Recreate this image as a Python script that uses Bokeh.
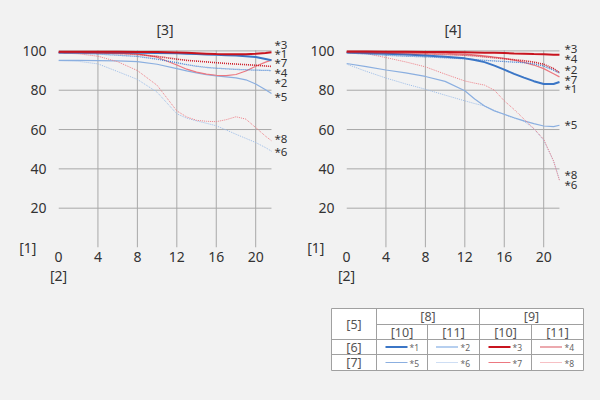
from bokeh.plotting import figure
from bokeh.layouts import column, row
from bokeh.models import Range1d, FixedTicker, Label
from bokeh.embed import file_html
from bokeh.resources import INLINE

FONT = "Noto Sans"
BG = "#f2f2f2"
TXT = "#333333"

# ---------------- data ----------------
x_pos = [0, 2, 4, 6, 8, 10, 12, 13, 14, 15, 16, 17, 18, 19, 20, 21, 21.6]

# left chart  [3]
left_1 = [99.2, 99.2, 99.2, 99.1, 99.0, 98.9, 98.8, 98.6, 98.4, 98.2, 98.0, 97.8, 97.6, 97.3, 96.9, 95.9, 95.2]
left_2 = [99.0, 98.8, 98.4, 97.8, 97.2, 95.8, 94.0, 93.0, 92.2, 91.6, 91.2, 90.9, 90.6, 90.4, 90.2, 90.1, 90.0]
left_3 = [99.6, 99.6, 99.6, 99.6, 99.5, 99.4, 99.2, 99.0, 98.8, 98.6, 98.4, 98.3, 98.3, 98.3, 98.5, 98.9, 99.3]
left_4 = [99.3, 99.2, 99.0, 98.7, 98.2, 97.2, 95.8, 95.2, 94.8, 94.4, 94.0, 93.6, 93.3, 93.0, 92.7, 92.3, 92.1]
left_5 = [95.2, 95.2, 95.1, 94.9, 94.5, 93.2, 91.0, 89.8, 88.8, 87.9, 87.3, 86.8, 86.3, 85.3, 83.2, 80.2, 78.3]
left_6 = [95.0, 94.7, 93.4, 89.5, 85.5, 79.0, 68.0, 65.8, 64.4, 63.2, 61.9, 59.8, 57.6, 55.5, 53.4, 50.8, 49.0]
left_7 = [99.0, 99.0, 98.9, 98.8, 98.5, 96.8, 92.8, 90.7, 89.2, 88.2, 87.6, 87.4, 88.0, 89.8, 92.2, 94.3, 95.3]
left_8 = [99.0, 98.5, 97.3, 94.5, 90.0, 82.5, 69.5, 66.4, 64.7, 64.2, 64.0, 65.0, 66.5, 65.3, 61.0, 56.6, 54.3]

# right chart  [4]
right_1 = [99.2, 98.9, 98.6, 98.2, 97.6, 97.0, 96.2, 95.4, 94.3, 92.5, 90.5, 88.3, 86.4, 84.6, 83.2, 83.2, 84.2]
right_2 = [99.0, 98.4, 97.8, 97.3, 97.0, 96.5, 96.0, 95.6, 95.2, 94.9, 94.6, 94.3, 94.0, 93.4, 92.3, 90.2, 88.8]
right_3 = [99.7, 99.7, 99.6, 99.6, 99.5, 99.4, 99.3, 99.2, 99.1, 99.0, 98.9, 98.7, 98.6, 98.4, 98.3, 98.1, 98.0]
right_4 = [99.3, 99.1, 98.9, 98.7, 98.5, 98.2, 97.8, 97.5, 97.0, 96.5, 96.0, 95.5, 95.0, 94.3, 93.2, 91.0, 89.0]
right_5 = [93.6, 92.0, 90.3, 88.8, 87.0, 84.5, 79.7, 75.5, 72.0, 69.5, 67.8, 66.0, 64.4, 63.0, 61.8, 61.5, 62.2]
right_6 = [93.3, 89.6, 86.2, 83.2, 80.5, 77.5, 74.6, 73.2, 72.0, 69.6, 67.6, 65.8, 64.2, 60.5, 54.5, 44.0, 34.5]
right_7 = [99.6, 99.5, 99.4, 99.3, 99.1, 98.8, 98.4, 98.0, 97.5, 96.9, 96.2, 95.3, 94.2, 92.8, 91.0, 88.4, 86.8]
right_8 = [99.2, 98.6, 96.6, 94.4, 91.9, 88.2, 84.7, 83.6, 82.6, 80.0, 74.6, 70.2, 65.3, 60.5, 55.0, 44.0, 34.0]

series_ids = ["*1", "*2", "*3", "*4", "*5", "*6", "*7", "*8"]
left_series = [left_1, left_2, left_3, left_4, left_5, left_6, left_7, left_8]
right_series = [right_1, right_2, right_3, right_4, right_5, right_6, right_7, right_8]

left_label_y = {"*3": 103.5, "*1": 98.9, "*7": 93.9, "*4": 88.8, "*2": 83.7, "*5": 76.6, "*8": 55.2, "*6": 48.6}
right_label_y = {"*3": 101.4, "*4": 96.3, "*2": 90.7, "*7": 85.6, "*1": 80.7, "*5": 62.8, "*8": 37.3, "*6": 32.2}

x_ticks = [0, 4, 8, 12, 16, 20]
y_ticks = [20, 40, 60, 80, 100]
X_MAX = 21.6
Y_MAX = 100.3
chart_titles = ["[3]", "[4]"]
y_unit = "[1]"
x_unit = "[2]"

row_head = "[5]"
group_heads = ["[8]", "[9]"]
sub_heads = ["[10]", "[11]", "[10]", "[11]"]
row_labels = ["[6]", "[7]"]

# ---------------- styles ----------------
STY = {
    "*1": dict(color="#3b76c6", width=2.0, dash="solid"),
    "*2": dict(color="#3f7fd4", width=1.3, dash="1 1"),
    "*3": dict(color="#c8141f", width=2.0, dash="solid"),
    "*4": dict(color="#cc1b28", width=1.6, dash="1 1"),
    "*5": dict(color="#8bafe0", width=1.2, dash="solid"),
    "*6": dict(color="#9dbde8", width=1.0, dash="1 1"),
    "*7": dict(color="#ec7880", width=1.2, dash="solid"),
    "*8": dict(color="#ee8088", width=1.0, dash="1 1"),
}
DRAW_ORDER = ["*6", "*5", "*8", "*7", "*2", "*1", "*4", "*3"]
PX_X = 9.86   # px per x unit
PX_Y = 1.966  # px per y unit
FIG_W, FIG_H = 300, 300
BOTTOM = 53


def make_chart(title, series, label_y, border_left, lab_off):
    fw = FIG_W - border_left
    fh = FIG_H - BOTTOM
    p = figure(frame_width=fw, frame_height=fh,
               min_border_left=border_left, min_border_right=0,
               min_border_top=0, min_border_bottom=BOTTOM,
               x_range=Range1d(0, fw / PX_X), y_range=Range1d(0, fh / PX_Y),
               output_backend="svg", toolbar_location=None,
               background_fill_color=BG, border_fill_color=BG,
               outline_line_color=None)
    for ax in (p.xaxis[0], p.yaxis[0]):
        ax.axis_line_color = None
        ax.major_tick_line_color = None
        ax.minor_tick_line_color = None
        ax.major_label_text_font = FONT
        ax.major_label_text_font_size = "14px"
        ax.major_label_text_color = TXT
        ax.axis_label_text_font = FONT
        ax.axis_label_text_font_size = "14px"
        ax.axis_label_text_color = TXT
        ax.axis_label_text_font_style = "normal"
    p.xaxis.ticker = FixedTicker(ticks=x_ticks)
    p.yaxis.ticker = FixedTicker(ticks=y_ticks)
    p.xaxis.major_label_standoff = -2
    p.yaxis.major_label_standoff = 6
    p.xaxis.axis_label = x_unit
    p.xaxis.axis_label_align = "start"
    p.xaxis.axis_label_standoff = 1
    p.yaxis.axis_label = y_unit
    p.yaxis.axis_label_orientation = "horizontal"
    p.yaxis.axis_label_align = "start"
    p.yaxis.axis_label_text_baseline = "bottom"
    p.yaxis.axis_label_standoff = -17
    p.xgrid.visible = False
    p.ygrid.visible = False

    gx = [t for t in x_ticks if t > 0]
    p.segment(x0=gx, y0=[0] * len(gx), x1=gx, y1=[Y_MAX] * len(gx),
              line_color="#a8a8a8", line_width=1)
    p.segment(x0=[0] * len(y_ticks), y0=y_ticks, x1=[X_MAX] * len(y_ticks), y1=y_ticks,
              line_color="#a8a8a8", line_width=1)

    data = dict(zip(series_ids, series))
    for sid in DRAW_ORDER:
        s = STY[sid]
        p.line(x_pos, data[sid], line_color=s["color"], line_width=s["width"],
               line_dash=s["dash"])

    for sid, yv in label_y.items():
        p.add_layout(Label(x=X_MAX, y=yv, x_offset=lab_off, text=sid,
                           text_font=FONT, text_font_size="11.5px",
                           text_color=TXT, text_baseline="middle", text_align="left"))

    p.add_layout(Label(x=X_MAX / 2, y=Y_MAX, y_offset=21, text=title, text_font=FONT,
                       text_font_size="14px", text_color=TXT,
                       text_align="center", text_baseline="middle"))
    return p


p1 = make_chart(chart_titles[0], left_series, left_label_y, 58, 3)
p2 = make_chart(chart_titles[1], right_series, right_label_y, 46, 5)

# ---------------- legend table ----------------
t = figure(width=600, height=100, x_range=Range1d(0, 600), y_range=Range1d(100, 0),
           x_axis_type=None, y_axis_type=None, output_backend="svg",
           toolbar_location=None, background_fill_color=BG, border_fill_color=BG,
           outline_line_color=None, min_border=0)
t.xgrid.visible = False
t.ygrid.visible = False

cols = [331, 376, 427, 479, 531, 583]
rows_ = [8, 24, 39, 54, 70]
LC = "#a0a0a0"
t.quad(left=[cols[0]], right=[cols[-1]], top=[rows_[0]], bottom=[rows_[-1]],
       fill_color="white", line_color=LC, line_width=1)
t.segment(x0=[cols[1], cols[0], cols[0]], y0=[rows_[1], rows_[2], rows_[3]],
          x1=[cols[-1], cols[-1], cols[-1]], y1=[rows_[1], rows_[2], rows_[3]],
          line_color=LC, line_width=1)
t.segment(x0=[cols[1], cols[3], cols[2], cols[4]], y0=[rows_[0], rows_[0], rows_[1], rows_[1]],
          x1=[cols[1], cols[3], cols[2], cols[4]], y1=[rows_[-1]] * 4,
          line_color=LC, line_width=1)


def tlabel(x, y, txt, size="12.5px", color="#555555", align="center"):
    t.add_layout(Label(x=x, y=y, text=txt, text_font=FONT, text_font_size=size,
                       text_color=color, text_align=align, text_baseline="middle"))


tlabel((cols[0] + cols[1]) / 2, (rows_[0] + rows_[2]) / 2, row_head)
tlabel((cols[1] + cols[3]) / 2, (rows_[0] + rows_[1]) / 2, group_heads[0])
tlabel((cols[3] + cols[5]) / 2, (rows_[0] + rows_[1]) / 2, group_heads[1])
for i, sh in enumerate(sub_heads):
    tlabel((cols[1 + i] + cols[2 + i]) / 2, (rows_[1] + rows_[2]) / 2, sh)
for r, rl in enumerate(row_labels):
    tlabel((cols[0] + cols[1]) / 2, (rows_[2 + r] + rows_[3 + r]) / 2, rl)

for k, sid in enumerate(series_ids):
    r = k // 4
    c = k % 4
    cx = cols[1 + c]
    cy = (rows_[2 + r] + rows_[3 + r]) / 2
    s = STY[sid]
    t.line([cx + 9, cx + 31], [cy, cy], line_color=s["color"], line_width=s["width"],
           line_dash=s["dash"])
    tlabel(cx + 33, cy + 0.5, sid, size="8.5px", color="#666666", align="left")

layout = column(row(p1, p2, spacing=0, styles={"background-color": BG}), t, spacing=0,
                styles={"background-color": BG})
open("out.html", "w").write(file_html(layout, INLINE))
